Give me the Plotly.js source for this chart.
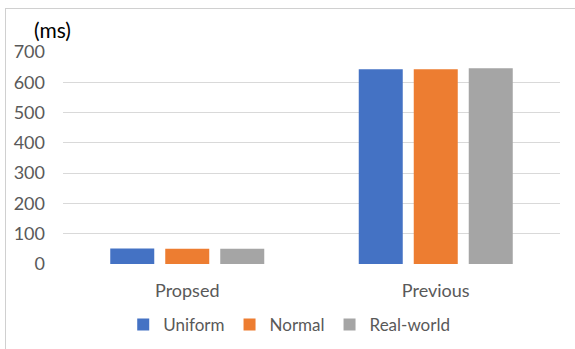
<!DOCTYPE html>
<html><head><meta charset="utf-8">
<script src="https://cdn.plot.ly/plotly-3.0.1.min.js"></script>
<style>
html,body{margin:0;padding:0;background:#fff;}
#wrap{position:relative;width:575px;height:349px;}
#chart{width:575px;height:349px;}
#bl{position:absolute;left:5px;top:8px;width:1px;height:341px;background:#d0d0d0;}
#bt{position:absolute;left:5px;top:8px;width:570px;height:1px;background:#d0d0d0;}
</style></head>
<body>
<div id="wrap"><div id="chart"></div><div id="bl"></div><div id="bt"></div></div>
<script>
const categories = ["Propsed", "Previous"];
const uniform = [51, 643];
const normal = [50, 643];
const realWorld = [50, 646];
const seriesNames = ["Uniform", "Normal", "Real-world"];
const colors = ["#4472c4", "#ed7d31", "#a5a5a5"];
const yTicks = [0, 100, 200, 300, 400, 500, 600, 700];

const font = "Lato, 'Open Sans', sans-serif";
const data = [uniform, normal, realWorld].map((v, i) => ({
  type: "bar", x: categories, y: v, name: seriesNames[i],
  marker: {color: colors[i]}, hoverinfo: "none"
}));

Plotly.newPlot("chart", data, {
  width: 575, height: 349,
  margin: {l: 63, r: 15, t: 52, b: 85},
  paper_bgcolor: "rgba(0,0,0,0)", plot_bgcolor: "#fff",
  barmode: "group", bargap: 0.336, bargroupgap: 0.2,
  font: {family: font, size: 17, color: "#595959"},
  xaxis: {showgrid: false, zeroline: false, showline: false, ticks: "",
          tickfont: {size: 18, color: "#595959"}, ticklabelstandoff: 14},
  yaxis: {range: [0, 700], tickvals: yTicks, showgrid: true, gridcolor: "#d9d9d9",
          gridwidth: 1, zeroline: false, showline: false, ticks: "",
          tickfont: {size: 18, color: "#595959"}, ticklabelstandoff: 17},
  showlegend: true,
  legend: {orientation: "h", xref: "container", yref: "container", x: 0.503, y: 0.069,
           xanchor: "center", yanchor: "middle", font: {size: 17, color: "#595959"},
           itemwidth: 30, traceorder: "normal"},
  annotations: [{text: "(ms)", xref: "paper", yref: "paper", x: (32-63)/497, y: (264-30)/212,
                 xanchor: "left", yanchor: "middle", showarrow: false,
                 font: {size: 21, color: "#000", family: font}}]
}, {staticPlot: true});
</script>
</body></html>
